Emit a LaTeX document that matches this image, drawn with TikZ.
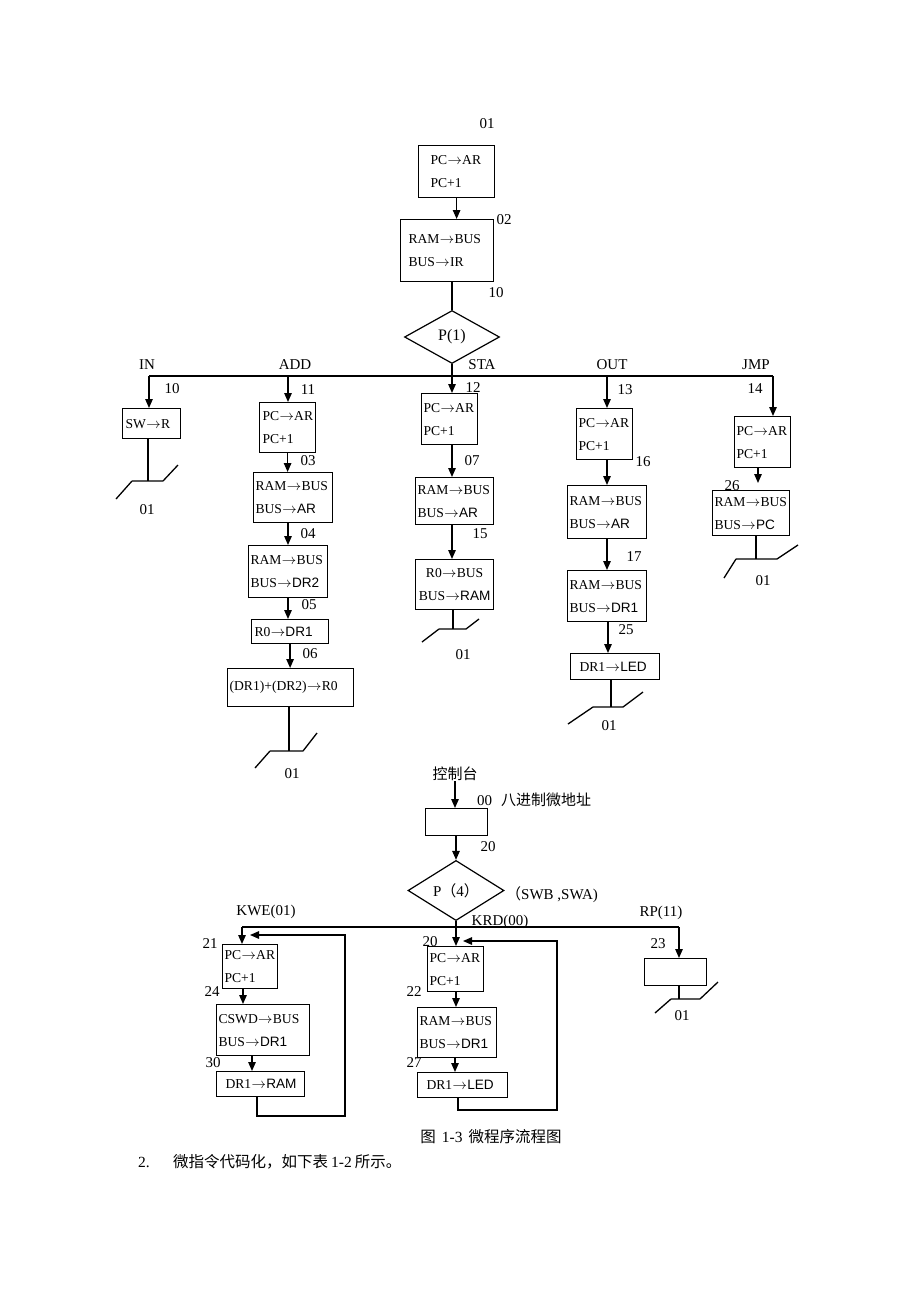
\documentclass[tikz,border=0pt]{standalone}
\usepackage{fontspec}
\setmainfont{Liberation Serif}
\newfontfamily\ssf{Liberation Sans}
\newfontfamily\cjk{Noto Sans CJK SC}
\usetikzlibrary{arrows.meta,shapes.geometric,calc}
\newcommand\ra{\kern0.3pt\ensuremath{\rightarrow}\kern0.3pt}
\tikzset{
 ln/.style={line width=1.3pt},
 arr/.style={ln,-{Triangle[length=9pt,width=7.5pt]}},
 box/.style={draw, line width=1.2pt, anchor=north west, inner ysep=0pt, align=left, font=\fontsize{13.6}{23}\selectfont},
 cbox/.style={box, align=center},
 lbl/.style={font=\fontsize{15}{18}\selectfont, inner sep=0pt},
 dia/.style={draw, diamond, line width=1.2pt, inner sep=0pt, font=\fontsize{16}{18}\selectfont}
}
\newcommand\fbx[8][box]{\node[#1, minimum width=#5pt, minimum height=#6pt, inner xsep=#7pt, text width={#5pt-2*#7pt}] (#2) at (#3,#4) {#8};}
\newcommand\brk[7]{\draw[ln] (#1,#3) -- (#2,#3) (#1,#3) -- ++(#4,#5) (#2,#3) -- ++(#6,#7);}
\begin{document}
\begin{tikzpicture}[x=1pt,y=-1pt]
\fill[white] (0,0) rectangle (920,1302);
\useasboundingbox (0,0) rectangle (920,1302);
% ---------- top ----------
\node[lbl] (l01) at (487,124) {01};
\fbx{b01}{418}{145}{76}{52}{12}{PC\ra AR\\PC+1}
\node[lbl] (l02) at (504,220) {02};
\fbx{b02}{400}{219}{93}{62}{8}{RAM\ra BUS\\BUS\ra IR}
\node[lbl] (l10a) at (496,293) {10};
\node[dia, minimum width=95pt, minimum height=53pt] (d1) at (452,337) {P(1)};
\draw[arr] (b01.south) -- (b01.south |- b02.north);
\draw[ln] (d1.north |- b02.south) -- (d1.north);
% branch labels
\node[lbl] (lIN) at (147,365) {IN};
\node[lbl] (lADD) at (295,365) {ADD};
\node[lbl] (lSTA) at (482,365) {STA};
\node[lbl] (lOUT) at (612,365) {OUT};
\node[lbl] (lJMP) at (756,365) {JMP};
\coordinate (jIN) at (149,376);
\coordinate (jADD) at (288,376);
\coordinate (jOUT) at (607,376);
\coordinate (jJMP) at (773,376);
\draw[ln] (jIN) -- (jJMP);
% IN
\node[lbl] (l10b) at (172,389) {10};
\fbx{bIN}{122}{408}{58}{30}{3}{SW\ra R}
\draw[arr] (jIN) -- (jIN |- bIN.north);
\coordinate (eIN) at (148,481);
\draw[ln] (eIN |- bIN.south) -- (eIN);
\brk{132}{163}{481}{-16}{18}{15}{-16}
\node[lbl] (o1) at (147,510) {01};
% ADD
\node[lbl] (l11) at (308,390) {11};
\fbx{bA1}{259}{402}{56}{50}{3}{PC\ra AR\\PC+1}
\node[lbl] (l03) at (308,461) {03};
\fbx{bA2}{253}{472}{79}{50}{2}{RAM\ra BUS\\BUS\ra{\ssf AR}}
\node[lbl] (l04) at (308,534) {04};
\fbx{bA3}{248}{545}{79}{52}{2}{RAM\ra BUS\\BUS\ra{\ssf DR2}}
\node[lbl] (l05) at (309,605) {05};
\fbx{bA4}{251}{619}{77}{24}{3}{R0\ra{\ssf DR1}}
\node[lbl] (l06) at (310,654) {06};
\fbx{bA5}{227}{668}{126}{38}{2}{(DR1)+(DR2)\ra R0}
\draw[arr] (jADD) -- (jADD |- bA1.north);
\draw[arr] (bA1.south) -- (bA1.south |- bA2.north);
\draw[arr] (jADD |- bA2.south) -- (jADD |- bA3.north);
\draw[arr] (jADD |- bA3.south) -- (jADD |- bA4.north);
\draw[arr] (bA4.south) -- (bA4.south |- bA5.north);
\coordinate (eADD) at (289,751);
\draw[ln] (eADD |- bA5.south) -- (eADD);
\brk{270}{303}{751}{-15}{17}{14}{-18}
\node[lbl] (o2) at (292,774) {01};
% STA
\node[lbl] (l12) at (473,388) {12};
\fbx{bS1}{421}{393}{56}{51}{2}{PC\ra AR\\PC+1}
\node[lbl] (l07) at (472,461) {07};
\fbx{bS2}{415}{477}{78}{47}{2}{RAM\ra BUS\\BUS\ra{\ssf AR}}
\node[lbl] (l15) at (480,534) {15};
\fbx[cbox]{bS3}{415}{559}{78}{50}{2}{R0\ra BUS\\BUS\ra{\ssf RAM}}
\draw[arr] (d1.south) -- (d1.south |- bS1.north);
\draw[arr] (d1.south |- bS1.south) -- (d1.south |- bS2.north);
\draw[arr] (d1.south |- bS2.south) -- (d1.south |- bS3.north);
\coordinate (eSTA) at (453,629);
\draw[ln] (eSTA |- bS3.south) -- (eSTA);
\brk{439}{466}{629}{-17}{13}{13}{-10}
\node[lbl] (o3) at (463,655) {01};
% OUT
\node[lbl] (l13) at (625,390) {13};
\fbx{bO1}{576}{408}{56}{51}{2}{PC\ra AR\\PC+1}
\node[lbl] (l16) at (643,462) {16};
\fbx{bO2}{567}{485}{79}{53}{2}{RAM\ra BUS\\BUS\ra{\ssf AR}}
\node[lbl] (l17) at (634,557) {17};
\fbx{bO3}{567}{570}{79}{51}{2}{RAM\ra BUS\\BUS\ra{\ssf DR1}}
\node[lbl] (l25) at (626,630) {25};
\fbx{bO4}{570}{653}{89}{26}{9}{DR1\ra{\ssf LED}}
\draw[arr] (jOUT) -- (jOUT |- bO1.north);
\draw[arr] (jOUT |- bO1.south) -- (jOUT |- bO2.north);
\draw[arr] (jOUT |- bO2.south) -- (jOUT |- bO3.north);
\draw[arr] ([xshift=1pt]jOUT |- bO3.south) -- ([xshift=1pt]jOUT |- bO4.north);
\coordinate (eOUT) at (611,707);
\draw[ln] (eOUT |- bO4.south) -- (eOUT);
\brk{593}{623}{707}{-25}{17}{20}{-15}
\node[lbl] (o4) at (609,726) {01};
% JMP
\node[lbl] (l14) at (755,389) {14};
\fbx{bJ1}{734}{416}{56}{51}{2}{PC\ra AR\\PC+1}
\node[lbl] (l26) at (732,486) {26};
\fbx{bJ2}{712}{490}{77}{45}{2}{RAM\ra BUS\\BUS\ra{\ssf PC}}
\draw[arr] (jJMP) -- (jJMP |- bJ1.north);
\coordinate (jJ2) at (758,467);
\draw[arr] (jJ2) -- ([yshift=7pt]jJ2 |- bJ2.north);
\coordinate (eJMP) at (756,559);
\draw[ln] (eJMP |- bJ2.south) -- (eJMP);
\brk{736}{777}{559}{-12}{19}{21}{-14}
\node[lbl] (o5) at (763,581) {01};
% ---------- bottom ----------
\node[lbl, font=\cjk\fontsize{15}{18}\selectfont] (ctl) at (455,774) {控制台};
\node[lbl, anchor=west] (oct) at (477,800) {00\hspace{9pt}{\cjk 八进制微地址}};
\fbx{b00}{425}{808}{62}{27}{3}{}
\draw[arr] (ctl.south) -- (ctl.south |- b00.north);
\node[lbl] (l20a) at (488,847) {20};
\node[dia, minimum width=96pt, minimum height=53pt, font=\fontsize{15}{18}\selectfont] (d2) at (456,890.5) {P{\cjk （}4{\cjk ）}};
\draw[arr] (d2.north |- b00.south) -- (d2.north);
\node[lbl, anchor=west] (sw) at (506,895) {{\cjk （}SWB ,SWA)};
\node[lbl] (kwe) at (266,912) {KWE(01)};
\node[lbl] (krd) at (500,922) {KRD(00)};
\node[lbl] (rp) at (661,913) {RP(11)};
\coordinate (jK) at (242,927);
\coordinate (jP) at (679,927);
\draw[ln] (jK) -- (jP);
% KWE column
\node[lbl] (l21) at (210,944) {21};
\fbx{bK1}{222}{944}{55}{44}{2}{PC\ra AR\\PC+1}
\node[lbl] (l24) at (212,992) {24};
\fbx{bK2}{216}{1004}{93}{51}{2}{CSWD\ra BUS\\BUS\ra{\ssf DR1}}
\node[lbl] (l30) at (213,1063) {30};
\fbx{bK3}{216}{1071}{88}{25}{9}{DR1\ra{\ssf RAM}}
\draw[arr] (jK) -- (jK |- bK1.north);
\draw[arr] ([xshift=1pt]jK |- bK1.south) -- ([xshift=1pt]jK |- bK2.north);
\draw[arr] ([xshift=36pt]bK2.south west) -- ([xshift=36pt]bK2.south west |- bK3.north);
\coordinate (lpK) at (250,935);
\draw[arr] ([xshift=41pt]bK3.south west) |- (345,1116) |- (lpK);
% KRD column
\node[lbl] (l20b) at (430,942) {20};
\fbx{bR1}{427}{946}{56}{45}{2}{PC\ra AR\\PC+1}
\node[lbl] (l22) at (414,992) {22};
\fbx{bR2}{417}{1007}{79}{50}{2}{RAM\ra BUS\\BUS\ra{\ssf DR1}}
\node[lbl] (l27) at (414,1063) {27};
\fbx{bR3}{417}{1072}{90}{25}{9}{DR1\ra{\ssf LED}}
\draw[arr] (d2.south) -- (d2.south |- bR1.north);
\draw[arr] (d2.south |- bR1.south) -- (d2.south |- bR2.north);
\draw[arr] ([xshift=-1pt]d2.south |- bR2.south) -- ([xshift=-1pt]d2.south |- bR3.north);
\coordinate (lpR) at (463,941);
\draw[arr] ([xshift=41pt]bR3.south west) |- (557,1110) |- (lpR);
% RP column
\node[lbl] (l23) at (658,944) {23};
\fbx{bP}{644}{958}{62}{27}{3}{}
\draw[arr] (jP) -- (jP |- bP.north);
\coordinate (eP) at (679,999);
\draw[ln] (eP |- bP.south) -- (eP);
\brk{671}{700}{999}{-16}{14}{18}{-17}
\node[lbl] (o6) at (682,1016) {01};
% caption
\node[lbl, font=\fontsize{15.5}{18}\selectfont] (cap) at (491,1137) {{\cjk 图}\hspace{6pt}1-3\hspace{6pt}{\cjk 微程序流程图}};
\node[lbl, anchor=west, font=\fontsize{15.5}{18}\selectfont] (n2) at (138,1162) {2.};
\node[lbl, anchor=west, font=\fontsize{15.5}{18}\selectfont] (n2t) at (173,1162) {{\cjk 微指令代码化，如下表}\hspace{3pt}1-2\hspace{3pt}{\cjk 所示。}};
\end{tikzpicture}
\end{document}
